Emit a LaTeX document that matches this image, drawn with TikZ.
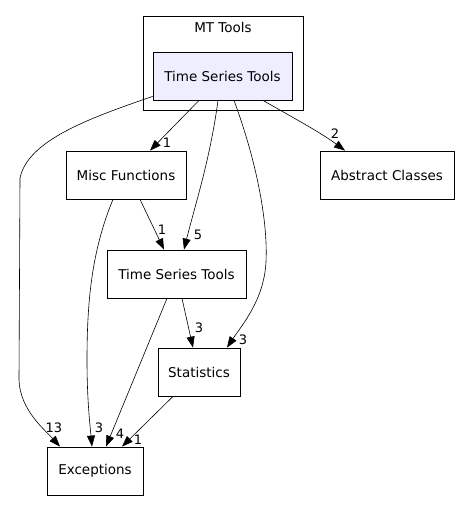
\documentclass[tikz,border=0pt]{standalone}
\usepackage{fontspec}
\setmainfont{DejaVu Sans}
\usetikzlibrary{arrows.meta, positioning}

\begin{document}
\begin{tikzpicture}[x=1pt, y=-1pt, line width=0.8pt,
    font=\fontsize{13.5}{15}\selectfont,
    dirbox/.style={draw, minimum height=48pt, inner sep=0pt},
    dep/.style={-{Triangle[length=11pt, width=8pt]}, line width=0.6pt},
    cnt/.style={inner sep=0pt, font=\fontsize{13}{15}\selectfont}]
  \useasboundingbox (0,0) rectangle (459,511);
  % cluster and the directories
  \node[draw, minimum width=160pt, minimum height=94pt] (mtcluster) at (223,63) {};
  \node (mtlabel) at (223,27) {MT Tools};
  \node[dirbox, fill={rgb,255:red,238;green,238;blue,255}, minimum width=139pt] (tstop) at (222.5,76) {Time Series Tools};
  \node[dirbox, minimum width=120pt] (misc) at (126,175) {Misc Functions};
  \node[dirbox, minimum width=134pt] (abstract) at (387,175) {Abstract Classes};
  \node[dirbox, minimum width=139pt] (tsinner) at (176.5,274) {Time Series Tools};
  \node[dirbox, minimum width=82pt] (stats) at (199,372) {Statistics};
  \node[dirbox, minimum width=96pt] (except) at (95,471) {Exceptions};
  % dependencies
  \draw[dep] ([xshift=-23.5pt]tstop.south) -- ([xshift=24pt]misc.north);
  \draw[dep] ([xshift=40.5pt]tstop.south) .. controls (290,116) and (320,132) .. ([xshift=-42pt]abstract.north);
  \draw[dep] ([xshift=-4.5pt]tstop.south) .. controls (210,160) and (195,205) .. ([xshift=7.5pt]tsinner.north);
  \draw[dep] ([xshift=11.5pt]tstop.south) .. controls (256,160) and (268,220) .. (266,262)
    .. controls (264,300) and (242,325) .. ([xshift=28pt]stats.north);
  \draw[dep] ([yshift=4pt]tstop.south west) .. controls (90,118) and (28,140) .. (20,178)
    -- (19,380) .. controls (20,410) and (45,430) .. ([xshift=-35pt]except.north);
  \draw[dep] ([xshift=14pt]misc.south) -- ([xshift=-12.5pt]tsinner.north);
  \draw[dep] ([xshift=-13pt]misc.south) .. controls (92,250) and (87,300) .. (87,360)
    .. controls (87,400) and (90,425) .. ([xshift=-3pt]except.north);
  \draw[dep] ([xshift=5.5pt]tsinner.south) -- ([xshift=-6pt]stats.north);
  \draw[dep] ([xshift=-9.5pt]tsinner.south) -- ([xshift=11pt]except.north);
  \draw[dep] ([xshift=-26pt]stats.south) -- ([xshift=27pt]except.north);
  % counts
  \node[cnt] (c1) at (167,143) {1};
  \node[cnt] (c2) at (335,134) {2};
  \node[cnt] (c3) at (198,235) {5};
  \node[cnt] (c4) at (243,340) {3};
  \node[cnt] (c5) at (54,428) {13};
  \node[cnt] (c6) at (162,230) {1};
  \node[cnt] (c7) at (99,428) {3};
  \node[cnt] (c8) at (199,328) {3};
  \node[cnt] (c9) at (120,434) {4};
  \node[cnt] (c10) at (138,440) {1};
\end{tikzpicture}
\end{document}
